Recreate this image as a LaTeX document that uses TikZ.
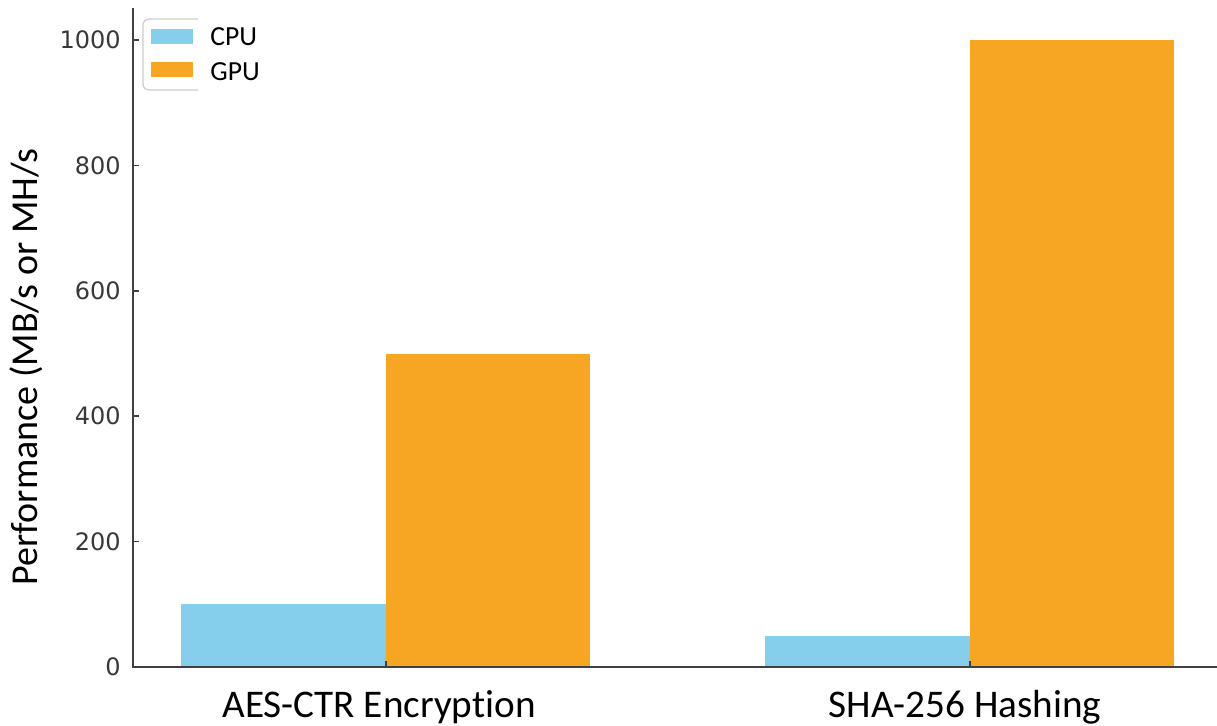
\documentclass[tikz,border=0pt]{standalone}
\usepackage{fontspec}
\setmainfont[Ligatures=NoCommon]{Carlito}
\newfontfamily\dejavu{DejaVu Sans}
\definecolor{cpucol}{HTML}{86CFEC}
\definecolor{gpucol}{HTML}{F6A623}
\definecolor{axiscol}{HTML}{404040}
\definecolor{ticklab}{HTML}{383838}
\begin{document}
\begin{tikzpicture}[x=0.5pt,y=-0.5pt,
  ytick/.style={anchor=east,font=\dejavu\fontsize{12}{14}\selectfont,text=ticklab,inner sep=0pt},
  xlab/.style={anchor=base,font=\fontsize{19.6}{22}\selectfont,text=black,inner sep=0pt},
  leglab/.style={anchor=west,font=\fontsize{13.8}{16}\selectfont,text=black,inner sep=0pt},
  axisline/.style={draw=axiscol,line width=1pt},
  tickline/.style={draw=axiscol,line width=0.8pt}]
\useasboundingbox (0,0) rectangle (1217,725);
% bars
\fill[cpucol] (181,604.3) rectangle (386,667);
\fill[gpucol] (386,353.5) rectangle (590,667);
\fill[cpucol] (765,635.6) rectangle (970,667);
\fill[gpucol] (970,40) rectangle (1174,667);
% axes
\coordinate (ytop) at (133,8);
\coordinate (origin) at (133,667);
\coordinate (xend) at (1217,667);
\draw[axisline] (ytop) -- (origin) -- (xend);
% y ticks
\foreach \v/\y in {0/667,200/541.6,400/416.2,600/290.8,800/165.4,1000/40}{
  \draw[tickline] (133,\y) -- (139,\y);
  \node[ytick] (yt\v) at (121,\y) {\v};
}
% x ticks
\draw[tickline] (386,667) -- (386,661);
\draw[tickline] (970,667) -- (970,661);
\node[xlab] (xl1) at (379,717) {AES-CTR Encryption};
\node[xlab] (xl2) at (965,717) {SHA-256 Hashing};
% y label
\node[rotate=90,font=\fontsize{19}{22}\selectfont,inner sep=0pt] (ylab) at (26,367) {Performance (MB/s or MH/s};
% legend
\draw[draw=black!20,line width=0.6pt,rounded corners=3pt] (198,19) -- (143,19) -- (143,90) -- (198,90);
\fill[cpucol] (151,29) rectangle (193,44);
\fill[gpucol] (151,61.5) rectangle (193,77);
\node[leglab] (lcpu) at (210,37) {CPU};
\node[leglab] (lgpu) at (210,72) {GPU};
\end{tikzpicture}
\end{document}
